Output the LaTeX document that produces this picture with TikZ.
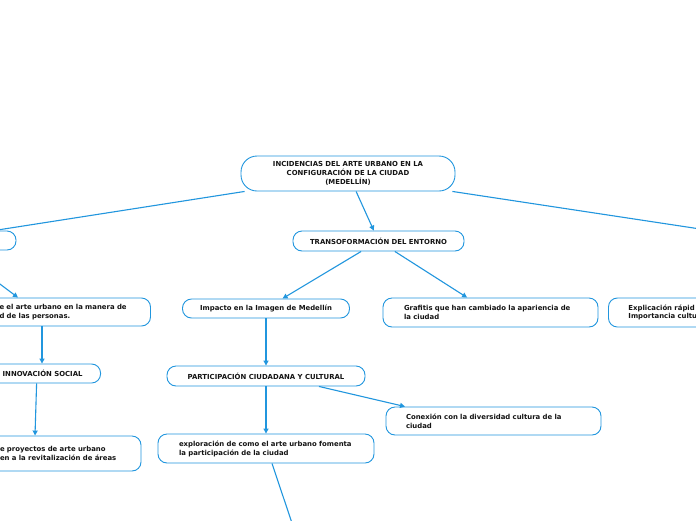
\documentclass[tikz,border=0pt]{standalone}
\usepackage{fontspec}
\setmainfont{DejaVu Sans}
\usetikzlibrary{positioning, arrows.meta, calc}
\definecolor{mapblue}{RGB}{33, 150, 222}
\definecolor{maptext}{RGB}{20, 20, 20}

\begin{document}
\begin{tikzpicture}[
        x=1pt, y=-1pt,
        box/.style={draw=mapblue, fill=white, line width=0.9pt, rounded corners=9pt, font=\fontsize{6.9}{8.9}\selectfont\bfseries, text=maptext},
        title/.style={box, align=center, inner sep=0pt},
        idea/.style={box, align=left, inner xsep=21pt, inner ysep=0pt, text width=173pt, minimum height=29pt},
        arrow/.style={-{Triangle[length=5pt, width=5pt]}, line width=1.1pt, mapblue}
    ]
    \useasboundingbox (0,0) rectangle (696,520);
    \fill[white] (0,0) rectangle (696,520);
    \clip (0,0) rectangle (696,520);

    \node[title, minimum width=214pt, minimum height=35pt, rounded corners=16pt] (root) at (348,173.5) {INCIDENCIAS DEL ARTE URBANO EN LA\\CONFIGURACIÓN DE LA CIUDAD\\(MEDELLÍN)};
    \node[title, minimum width=140pt, minimum height=19pt] (ideaA) at (-54,240.5) {};
    \node[title, minimum width=171pt, minimum height=20pt] (entorno) at (378.5,241) {TRANSOFORMACIÓN DEL ENTORNO};
    \node[idea, text width=130pt, minimum height=28pt] (manera) at (64.5,312) {e el arte urbano en la manera de\\d de las personas.};
    \node[title, minimum height=19pt, inner xsep=18pt, anchor=east] (innovacion) at (101,373.5) {INNOVACIÓN SOCIAL};
    \node[idea, text width=120pt, minimum height=35pt] (proyectos) at (60,453.5) {e proyectos de arte urbano\\en a la revitalización de áreas};
    \node[title, minimum width=167pt, minimum height=19pt] (impacto) at (266,308.5) {Impacto en la Imagen de Medellín};
    \node[idea] (grafitis) at (490.5,312.5) {Grafitis que han cambiado la apariencia de\\la ciudad};
    \node[idea, anchor=west, inner xsep=20pt] (explicacion) at (608,312.5) {Explicación rápid\\Importancia cultu};
    \node[title, minimum width=198pt, minimum height=20pt] (participacion) at (266,376) {PARTICIPACIÓN CIUDADANA Y CULTURAL};
    \node[idea, inner xsep=20pt, text width=175pt, minimum height=28pt] (conexion) at (493.5,421) {Conexión con la diversidad cultura de la\\ciudad};
    \node[idea, text width=174pt] (exploracion) at (266,448.5) {exploración de como el arte urbano fomenta\\la participación de la ciudad};

    \coordinate (otroA) at (720,232);
    \coordinate (otroB) at (298,541);

    \draw[arrow] ([xshift=4pt]root.south west) -- ([xshift=48pt]ideaA.north);
    \draw[arrow] (root) -- (entorno);
    \draw[arrow] ([xshift=-3pt]root.south east) -- (otroA);
    \draw[arrow] ([xshift=9pt]ideaA.south) -- ([xshift=-46.5pt]manera.north);
    \draw[arrow] ([xshift=-22.5pt]manera.south) -- ([xshift=-22.5pt]manera.south |- innovacion.north);
    \draw[arrow] ([xshift=-6pt]innovacion.south) -- ([xshift=-25pt]proyectos.north);
    \draw[arrow] (entorno) -- (impacto);
    \draw[arrow] (entorno) -- (grafitis);
    \draw[arrow] (impacto) -- (participacion);
    \draw[arrow] ([xshift=53pt]participacion.south) -- ([xshift=-88.5pt]conexion.north);
    \draw[arrow] (participacion) -- (exploracion);
    \draw[arrow] ([xshift=6pt]exploracion.south) -- (otroB);
\end{tikzpicture}
\end{document}
